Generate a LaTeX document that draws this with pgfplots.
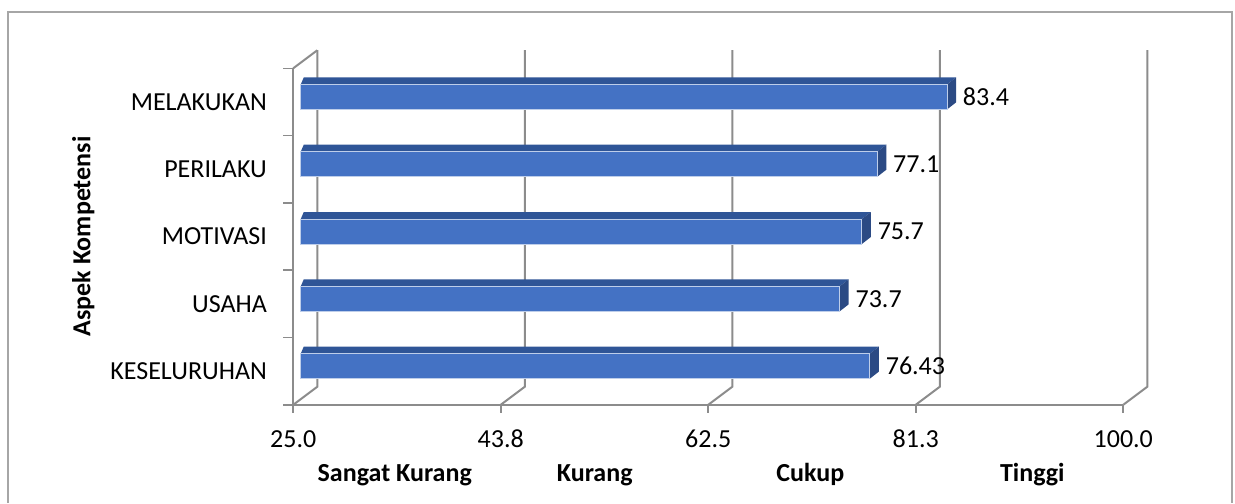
\documentclass[border=0pt]{standalone}
\usepackage{fontspec}
\setmainfont{Carlito}
\usepackage{pgfplots}
\usepackage{pgfplotstable}
\pgfplotsset{compat=1.18}

\definecolor{barfront}{HTML}{4472C4}
\definecolor{bartop}{HTML}{2F5597}
\definecolor{barside}{HTML}{2B4A84}
\definecolor{gridgray}{HTML}{8C8C8C}
\definecolor{framegray}{HTML}{A6A6A6}

% k = row from the bottom, v = score
\pgfplotstableread{
k name v
0 KESELURUHAN 76.43
1 USAHA 73.7
2 MOTIVASI 75.7
3 PERILAKU 77.1
4 MELAKUKAN 83.4
}\data

\tikzset{
  vlab/.style={anchor=west, inner sep=0pt, font=\fontsize{13}{15}\selectfont},
  band/.style={anchor=base, inner sep=0pt, font=\bfseries\fontsize{13}{15}\selectfont},
  wall/.style={gridgray, line width=1pt},
}

\begin{document}
\begin{tikzpicture}[x=0.5pt,y=0.5pt]
\path (0,0) rectangle (1235,503);
\draw[framegray, line width=0.6pt] (8,0) -- (8,491) -- (1232,491) -- (1232,0);

\begin{axis}[
  at={(265,146)}, anchor=south west,
  scale only axis, width=415pt, height=168.25pt,
  xmin=25, xmax=100, ymin=-0.5, ymax=4.5,
  xbar, bar width=12.5pt,
  clip=false,
  axis x line*=bottom, axis y line*=left,
  axis line style={gridgray, line width=1pt, -},
  xtick={25,43.75,62.5,81.25,100},
  xticklabels={25.0,43.8,62.5,81.3,100.0},
  ytick={0,...,4},
  yticklabels={KESELURUHAN,USAHA,MOTIVASI,PERILAKU,MELAKUKAN},
  major tick length=0pt,
  tick label style={font=\fontsize{13}{15}\selectfont, inner sep=0pt},
  xticklabel style={anchor=base, yshift=-21.5pt},
  yticklabel style={anchor=east, xshift=-13pt},
  ylabel={Aspek Kompetensi},
  ylabel style={font=\bfseries\fontsize{13}{15}\selectfont,
    at={(rel axis cs:-0.253,0.5)}, anchor=center},
  /pgf/number format/assume math mode=true,
]

% floor and back wall
\pgfplotsinvokeforeach{25,43.75,62.5,81.25,100}{
  \draw[wall] (axis cs:#1,-0.5) -- ++(0pt,-4pt);
  \draw[wall] (axis cs:#1,-0.5) -- ++(12pt,9pt) -- ++(0pt,168.25pt);
}
\draw[wall] (axis cs:25,4.5) -- ++(12pt,9pt);
\pgfplotsinvokeforeach{-0.5,0.5,1.5,2.5,3.5,4.5}{
  \draw[gridgray, line width=0.75pt] (axis cs:25,#1) -- ++(-5pt,0pt);
}

% top and side faces of the bars
\pgfplotsinvokeforeach{0,1,2,3,4}{
  \pgfplotstablegetelem{#1}{v}\of\data
  \edef\tmp{
    \noexpand\fill[bartop]
      ([xshift=3.75pt,yshift=8.75pt]axis cs:25,#1) --
      ([xshift=3.75pt,yshift=8.75pt]axis cs:\pgfplotsretval,#1) --
      ([xshift=8.25pt,yshift=12.25pt]axis cs:\pgfplotsretval,#1) --
      ([xshift=5.25pt,yshift=12.25pt]axis cs:25,#1) -- cycle;
    \noexpand\fill[barside]
      ([xshift=3.75pt,yshift=-3.75pt]axis cs:\pgfplotsretval,#1) --
      ([xshift=3.75pt,yshift=8.75pt]axis cs:\pgfplotsretval,#1) --
      ([xshift=8.25pt,yshift=12.25pt]axis cs:\pgfplotsretval,#1) --
      ([xshift=8.25pt,yshift=-0.25pt]axis cs:\pgfplotsretval,#1) -- cycle;
    \noexpand\node[vlab] at ([xshift=11.5pt,yshift=2.5pt]axis cs:\pgfplotsretval,#1)
      {\pgfplotsretval};
  }
  \tmp
}

% front faces
\addplot[fill=barfront, draw=barfront!35!white, line width=0.5pt,
  xshift=3.75pt, yshift=2.5pt] table[x=v, y=k] {\data};

% band names under the axis
\node[band] at ([yshift=-38.5pt]axis cs:34.17,-0.5) {Sangat Kurang};
\node[band] at ([yshift=-38.5pt]axis cs:52.24,-0.5) {Kurang};
\node[band] at ([yshift=-38.5pt]axis cs:71.72,-0.5) {Cukup};
\node[band] at ([yshift=-38.5pt]axis cs:91.78,-0.5) {Tinggi};
\end{axis}
\end{tikzpicture}
\end{document}
